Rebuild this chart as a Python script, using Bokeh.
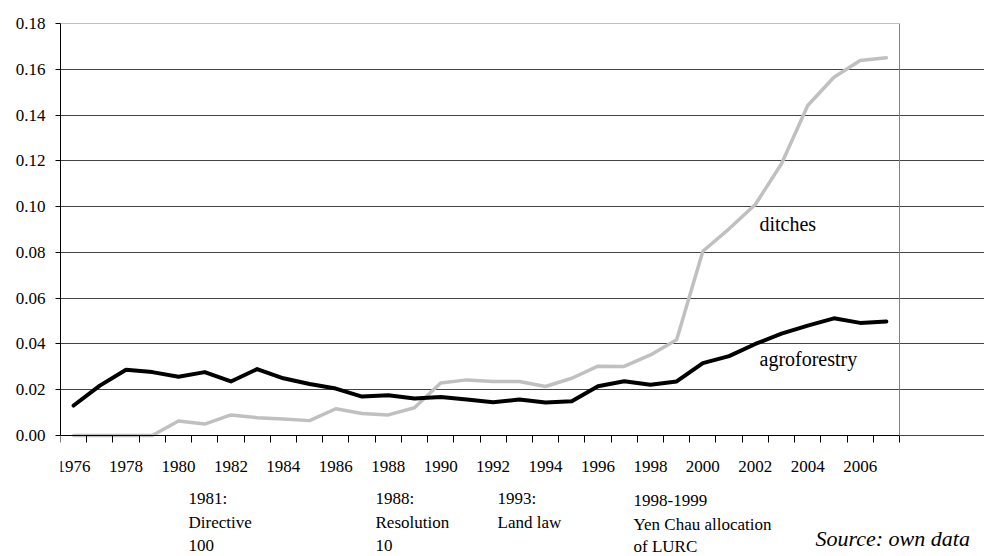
from bokeh.plotting import figure
from bokeh.models import FixedTicker, Label, Range1d, NumeralTickFormatter, ColumnDataSource, LinearAxis
from bokeh.embed import file_html
from bokeh.resources import INLINE

# ---- data ----
years = list(range(1976, 2008))
agroforestry = [0.0131, 0.0218, 0.0287, 0.0277, 0.0257, 0.0277, 0.0236, 0.0290,
                0.0250, 0.0225, 0.0205, 0.0170, 0.0176, 0.0162, 0.0168, 0.0157,
                0.0145, 0.0157, 0.0144, 0.0150, 0.0215, 0.0237, 0.0222, 0.0236,
                0.0316, 0.0347, 0.0400, 0.0445, 0.0480, 0.0512, 0.0492, 0.0498]
ditches = [0.0, 0.0, 0.0, 0.0, 0.0063, 0.0050, 0.0090, 0.0078,
           0.0072, 0.0065, 0.0117, 0.0096, 0.0090, 0.0121, 0.0229, 0.0243,
           0.0236, 0.0236, 0.0214, 0.0250, 0.0303, 0.0302, 0.0352, 0.0418,
           0.0805, 0.0903, 0.1009, 0.1187, 0.1442, 0.1565, 0.1638, 0.1650]
x_tick_years = list(range(1976, 2007, 2))
y_ticks = [0.0, 0.02, 0.04, 0.06, 0.08, 0.10, 0.12, 0.14, 0.16, 0.18]

series_labels = ["ditches", "agroforestry"]
events = [
    ("1981:", "Directive", "100"),
    ("1988:", "Resolution", "10"),
    ("1993:", "Land law"),
    ("1998-1999", "Yen Chau allocation", "of LURC"),
]
source_note = "Source: own data"

FONT = "Liberation Serif"

# ---- layout geometry (page pixels) ----
W, H = 984, 556
FL, FR, FT, FB = 60, 899, 23, 435          # chart box
x0, x1 = years[0] - 0.5, years[-1] + 0.5
y0, y1 = y_ticks[0], y_ticks[-1]
ppx = (FR - FL) / (x1 - x0)                # pixels per year
ppy = (FB - FT) / (y1 - y0)                # pixels per unit


def dx(px):
    return x0 + (px - FL) / ppx


def dy(py):
    return y0 + (FB - py) / ppy


src = ColumnDataSource(dict(year=years, agro=agroforestry, ditch=ditches))

p = figure(width=W, height=H, output_backend="svg", toolbar_location=None,
           x_range=Range1d(x0, dx(W)), y_range=Range1d(dy(H), y1),
           min_border_left=FL, min_border_right=0, min_border_top=FT,
           min_border_bottom=0)
p.background_fill_color = "white"
p.border_fill_color = "white"
p.outline_line_color = None

p.xgrid.visible = False
p.ygrid.ticker = FixedTicker(ticks=y_ticks[:-1])
p.ygrid.grid_line_color = "#444444"
p.ygrid.grid_line_width = 1
p.ygrid.bounds = (x0, x1)

ya = p.yaxis[0]
ya.bounds = (y0, y1)
ya.ticker = FixedTicker(ticks=y_ticks)
ya.formatter = NumeralTickFormatter(format="0.00")
ya.axis_line_color = "black"
ya.major_tick_line_color = "black"
ya.major_tick_out = 5
ya.major_tick_in = 0
ya.minor_tick_line_color = None
ya.major_label_standoff = 10
ya.major_label_text_font = FONT
ya.major_label_text_font_size = "17px"
ya.major_label_text_color = "black"

xa = p.xaxis[0]
xa.fixed_location = y0
xa.bounds = (x0, x1)
boundaries = [y - 0.5 for y in years] + [years[-1] + 0.5]
xa.ticker = FixedTicker(ticks=x_tick_years, minor_ticks=boundaries)
xa.major_label_overrides = {yr: str(yr) for yr in x_tick_years}
xa.axis_line_color = "black"
xa.major_tick_line_color = None
xa.major_tick_out = 0
xa.major_tick_in = 0
xa.minor_tick_line_color = "black"
xa.minor_tick_out = 7
xa.minor_tick_in = 0
xa.major_label_standoff = 18
xa.major_label_text_font = FONT
xa.major_label_text_font_size = "17px"
xa.major_label_text_color = "black"

# grey frame lines (top and right) as bounded axes
right_ax = LinearAxis(fixed_location=x1, bounds=(y0, y1), ticker=FixedTicker(ticks=[]),
                      axis_line_color="#808080", major_tick_line_color=None,
                      minor_tick_line_color=None)
p.add_layout(right_ax, "right")
top_ax = LinearAxis(fixed_location=y1, bounds=(x0, x1), ticker=FixedTicker(ticks=[]),
                    axis_line_color="#808080", major_tick_line_color=None,
                    minor_tick_line_color=None)
p.add_layout(top_ax, "above")

p.line("year", "ditch", source=src, line_color="#c0c0c0", line_width=3.5,
       line_join="round", line_cap="round")
p.line("year", "agro", source=src, line_color="black", line_width=4,
       line_join="round", line_cap="round")

p.add_layout(Label(x=dx(759), y=dy(223), text=series_labels[0], text_font=FONT,
                   text_font_size="20px", text_baseline="middle", text_align="left",
                   text_color="black"))
p.add_layout(Label(x=dx(759), y=dy(358), text=series_labels[1], text_font=FONT,
                   text_font_size="20px", text_baseline="middle", text_align="left",
                   text_color="black"))

event_px = [188, 375, 497, 633]
event_py = [[498, 522, 545], [498, 522, 545], [498, 522], [500, 524, 546]]
for ev, ex, eys in zip(events, event_px, event_py):
    for line_txt, ey in zip(ev, eys):
        p.add_layout(Label(x=dx(ex), y=dy(ey), text=line_txt,
                           text_font=FONT, text_font_size="17px",
                           text_baseline="middle", text_align="left",
                           text_color="black"))

p.add_layout(Label(x=dx(815), y=dy(538), text=source_note,
                   text_font=FONT, text_font_size="22px",
                   text_font_style="italic",
                   text_baseline="middle", text_align="left", text_color="black"))

open("out.html", "w").write(file_html(p, INLINE))
